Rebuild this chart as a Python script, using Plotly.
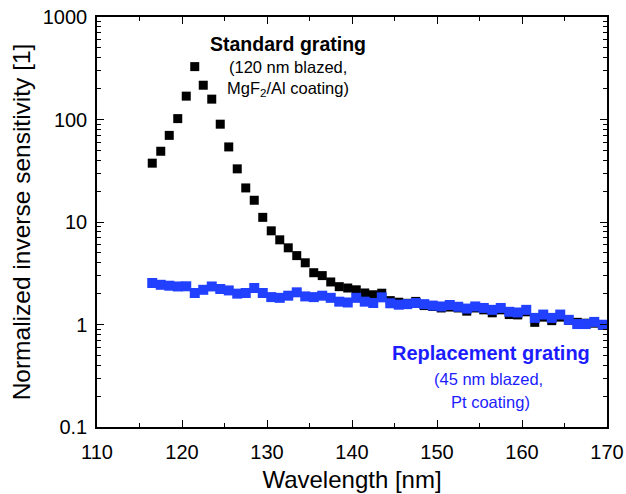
import plotly.graph_objects as go

# Wavelength grid (nm), one point per nm
wavelength = [116.5 + i for i in range(54)]

# Normalized inverse sensitivity of the standard grating (120 nm blazed, MgF2/Al)
standard = [37.5, 49, 70, 102, 169, 328, 216, 158, 90, 54,
            33, 21.5, 16.3, 11.1, 8.2, 6.7, 5.6, 4.7, 4.0, 3.2,
            3.0, 2.6, 2.34, 2.27, 2.18, 2.03, 1.95, 2.02, 1.71, 1.65,
            1.61, 1.68, 1.53, 1.50, 1.45, 1.48, 1.45, 1.35, 1.45, 1.39,
            1.30, 1.39, 1.25, 1.24, 1.33, 1.05, 1.18, 1.09, 1.18, 1.10,
            1.05, 1.03, 1.03, 0.98]

# Normalized inverse sensitivity of the replacement grating (45 nm blazed, Pt)
replacement = [2.54, 2.44, 2.39, 2.35, 2.36, 2.03, 2.18, 2.35, 2.22, 2.15,
               2.00, 2.03, 2.27, 2.03, 1.85, 1.82, 1.91, 2.06, 1.88, 1.85,
               1.91, 1.82, 1.67, 1.64, 1.82, 1.67, 1.62, 1.84, 1.61, 1.56,
               1.58, 1.62, 1.58, 1.53, 1.50, 1.55, 1.49, 1.43, 1.50, 1.45,
               1.39, 1.45, 1.33, 1.31, 1.39, 1.16, 1.25, 1.16, 1.25, 1.11,
               1.01, 1.01, 1.06, 0.995]

x_ticks = [110, 120, 130, 140, 150, 160, 170]
y_ticks = [0.1, 1, 10, 100, 1000]
y_ticktext = ["0.1", "1", "10", "100", "1000"]

BLUE_MARK = "#2140FF"
BLUE_TEXT = "#1c1cff"
FONT = "Liberation Sans, Arial, sans-serif"

# plot-area geometry in pixels
L, R, T, B = 97, 19, 17, 66.5
W, H = 626, 494
PW, PH = W - L - R, H - T - B

fig = go.Figure()
fig.add_trace(go.Scatter(
    x=wavelength, y=standard, mode="markers",
    marker=dict(symbol="square", size=9, color="black", line=dict(width=0)),
    showlegend=False))
fig.add_trace(go.Scatter(
    x=wavelength, y=replacement, mode="markers",
    marker=dict(symbol="square", size=10, color=BLUE_MARK, line=dict(width=0)),
    showlegend=False))

axis_common = dict(
    automargin=False,
    showline=True, linecolor="black", linewidth=1.5, mirror="allticks",
    ticks="inside", tickcolor="black", tickwidth=1.2, ticklen=7,
    showgrid=False, zeroline=False,
    tickfont=dict(family=FONT, size=20, color="black"),
)

fig.update_xaxes(
    range=[110, 170], tickvals=x_ticks, ticklabelstandoff=6,
    minor=dict(ticks="inside", ticklen=4, dtick=5, tickcolor="black", showgrid=False),
    title=dict(text="Wavelength [nm]", font=dict(family=FONT, size=24, color="black"), standoff=9),
    **axis_common)
fig.update_yaxes(
    type="log", range=[-1, 3], tickvals=y_ticks, ticktext=y_ticktext, ticklabelstandoff=4,
    minor=dict(ticks="inside", ticklen=4, dtick="D1", tickcolor="black", showgrid=False),
    title=dict(text="Normalized inverse sensitivity [1]", font=dict(family=FONT, size=24.5, color="black"), standoff=5),
    **axis_common)

labels = [
    ("<b>Standard grating</b>", 288, 44, 19.5, "black"),
    ("(120 nm blazed,", 288, 67, 16.5, "black"),
    ("MgF<sub>2</sub>/Al coating)", 288, 89, 16.5, "black"),
    ("<b>Replacement grating</b>", 491, 353, 20, BLUE_TEXT),
    ("(45 nm blazed,", 488, 379, 16.5, BLUE_TEXT),
    ("Pt coating)", 490, 402, 16.5, BLUE_TEXT),
]
for text, px, py, size, color in labels:
    fig.add_annotation(
        text=text, xref="paper", yref="paper",
        x=(px - L) / PW, y=1 - (py - T) / PH,
        xanchor="center", yanchor="middle", showarrow=False,
        font=dict(family=FONT, size=size, color=color))

fig.update_layout(
    width=W, height=H,
    margin=dict(l=L, r=R, t=T, b=B),
    paper_bgcolor="white", plot_bgcolor="white",
    font=dict(family=FONT),
)

fig.write_html("out.html")
